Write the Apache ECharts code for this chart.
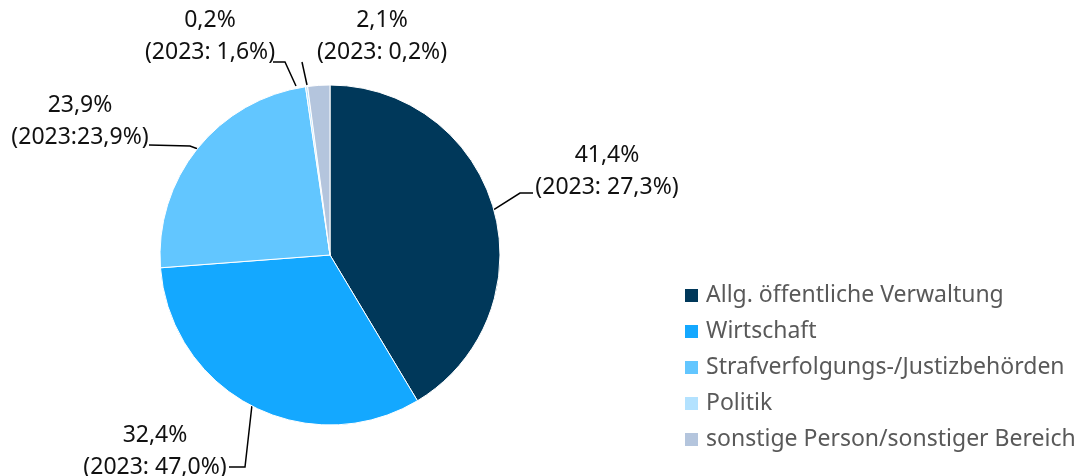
<!DOCTYPE html>
<html>
<head>
<meta charset="utf-8">
<script src="https://cdn.jsdelivr.net/npm/echarts@6/dist/echarts.min.js"></script>
<style>html,body{margin:0;padding:0;background:#fff}#c{width:1082px;height:476px}</style>
</head>
<body>
<div id="c"></div>
<script>
const categories = ['Allg. öffentliche Verwaltung', 'Wirtschaft', 'Strafverfolgungs-/Justizbehörden', 'Politik', 'sonstige Person/sonstiger Bereich'];
const values = [41.4, 32.4, 23.9, 0.2, 2.1];
const labels2023 = ['(2023: 27,3%)', '(2023: 47,0%)', '(2023:23,9%)', '(2023: 1,6%)', '(2023: 0,2%)'];
const valueLabels = ['41,4%', '32,4%', '23,9%', '0,2%', '2,1%'];
const colors = ['#00385a', '#14a8ff', '#62c6ff', '#b3e2ff', '#b4c5dd'];

// label placement: label centre (x,y), optional start override, bend point, end point of leader line
const labelPlace = [
  { x: 607, y: 171, bend: [520, 193], end: [533, 193] },
  { x: 155, y: 451, bend: [245, 467], end: [229, 467] },
  { x: 80,  y: 121, bend: [190, 146], end: [149, 145] },
  { x: 210, y: 36,  start: [296, 86], bend: [285, 62], end: [273, 62] },
  { x: 382, y: 36,  start: [307, 85], bend: [302, 62], end: [302, 62] }
];

const chart = echarts.init(document.getElementById('c'));
chart.setOption({
  animation: false,
  color: colors,
  legend: {
    orient: 'vertical',
    left: 683,
    top: 284,
    height: 200,
    padding: 0,
    itemWidth: 15,
    itemHeight: 15,
    itemGap: 13,
    icon: 'rect',
    textStyle: { color: '#595959', fontSize: 23, fontFamily: 'Noto Sans', padding: [0, 0, 0, 2] },
    data: categories
  },
  series: [{
    type: 'pie',
    center: [330, 255],
    radius: 170,
    startAngle: 90,
    clockwise: true,
    avoidLabelOverlap: false,
    itemStyle: { borderColor: '#fff', borderWidth: 1 },
    label: {
      show: true,
      formatter: p => valueLabels[p.dataIndex] + '\n' + labels2023[p.dataIndex],
      color: '#111',
      fontSize: 23,
      lineHeight: 32,
      fontFamily: 'Noto Sans',
      align: 'center'
    },
    labelLine: { show: true, length: 20, length2: 15, lineStyle: { color: '#000', width: 1.5 } },
    labelLayout: function (p) {
      const pl = labelPlace[p.dataIndex];
      const start = pl.start || (p.labelLinePoints ? p.labelLinePoints[0] : pl.bend);
      return {
        x: pl.x,
        y: pl.y,
        align: 'center',
        verticalAlign: 'middle',
        labelLinePoints: [start, pl.bend, pl.end]
      };
    },
    data: categories.map((n, i) => ({ name: n, value: values[i] }))
  }]
});
</script>
</body>
</html>
